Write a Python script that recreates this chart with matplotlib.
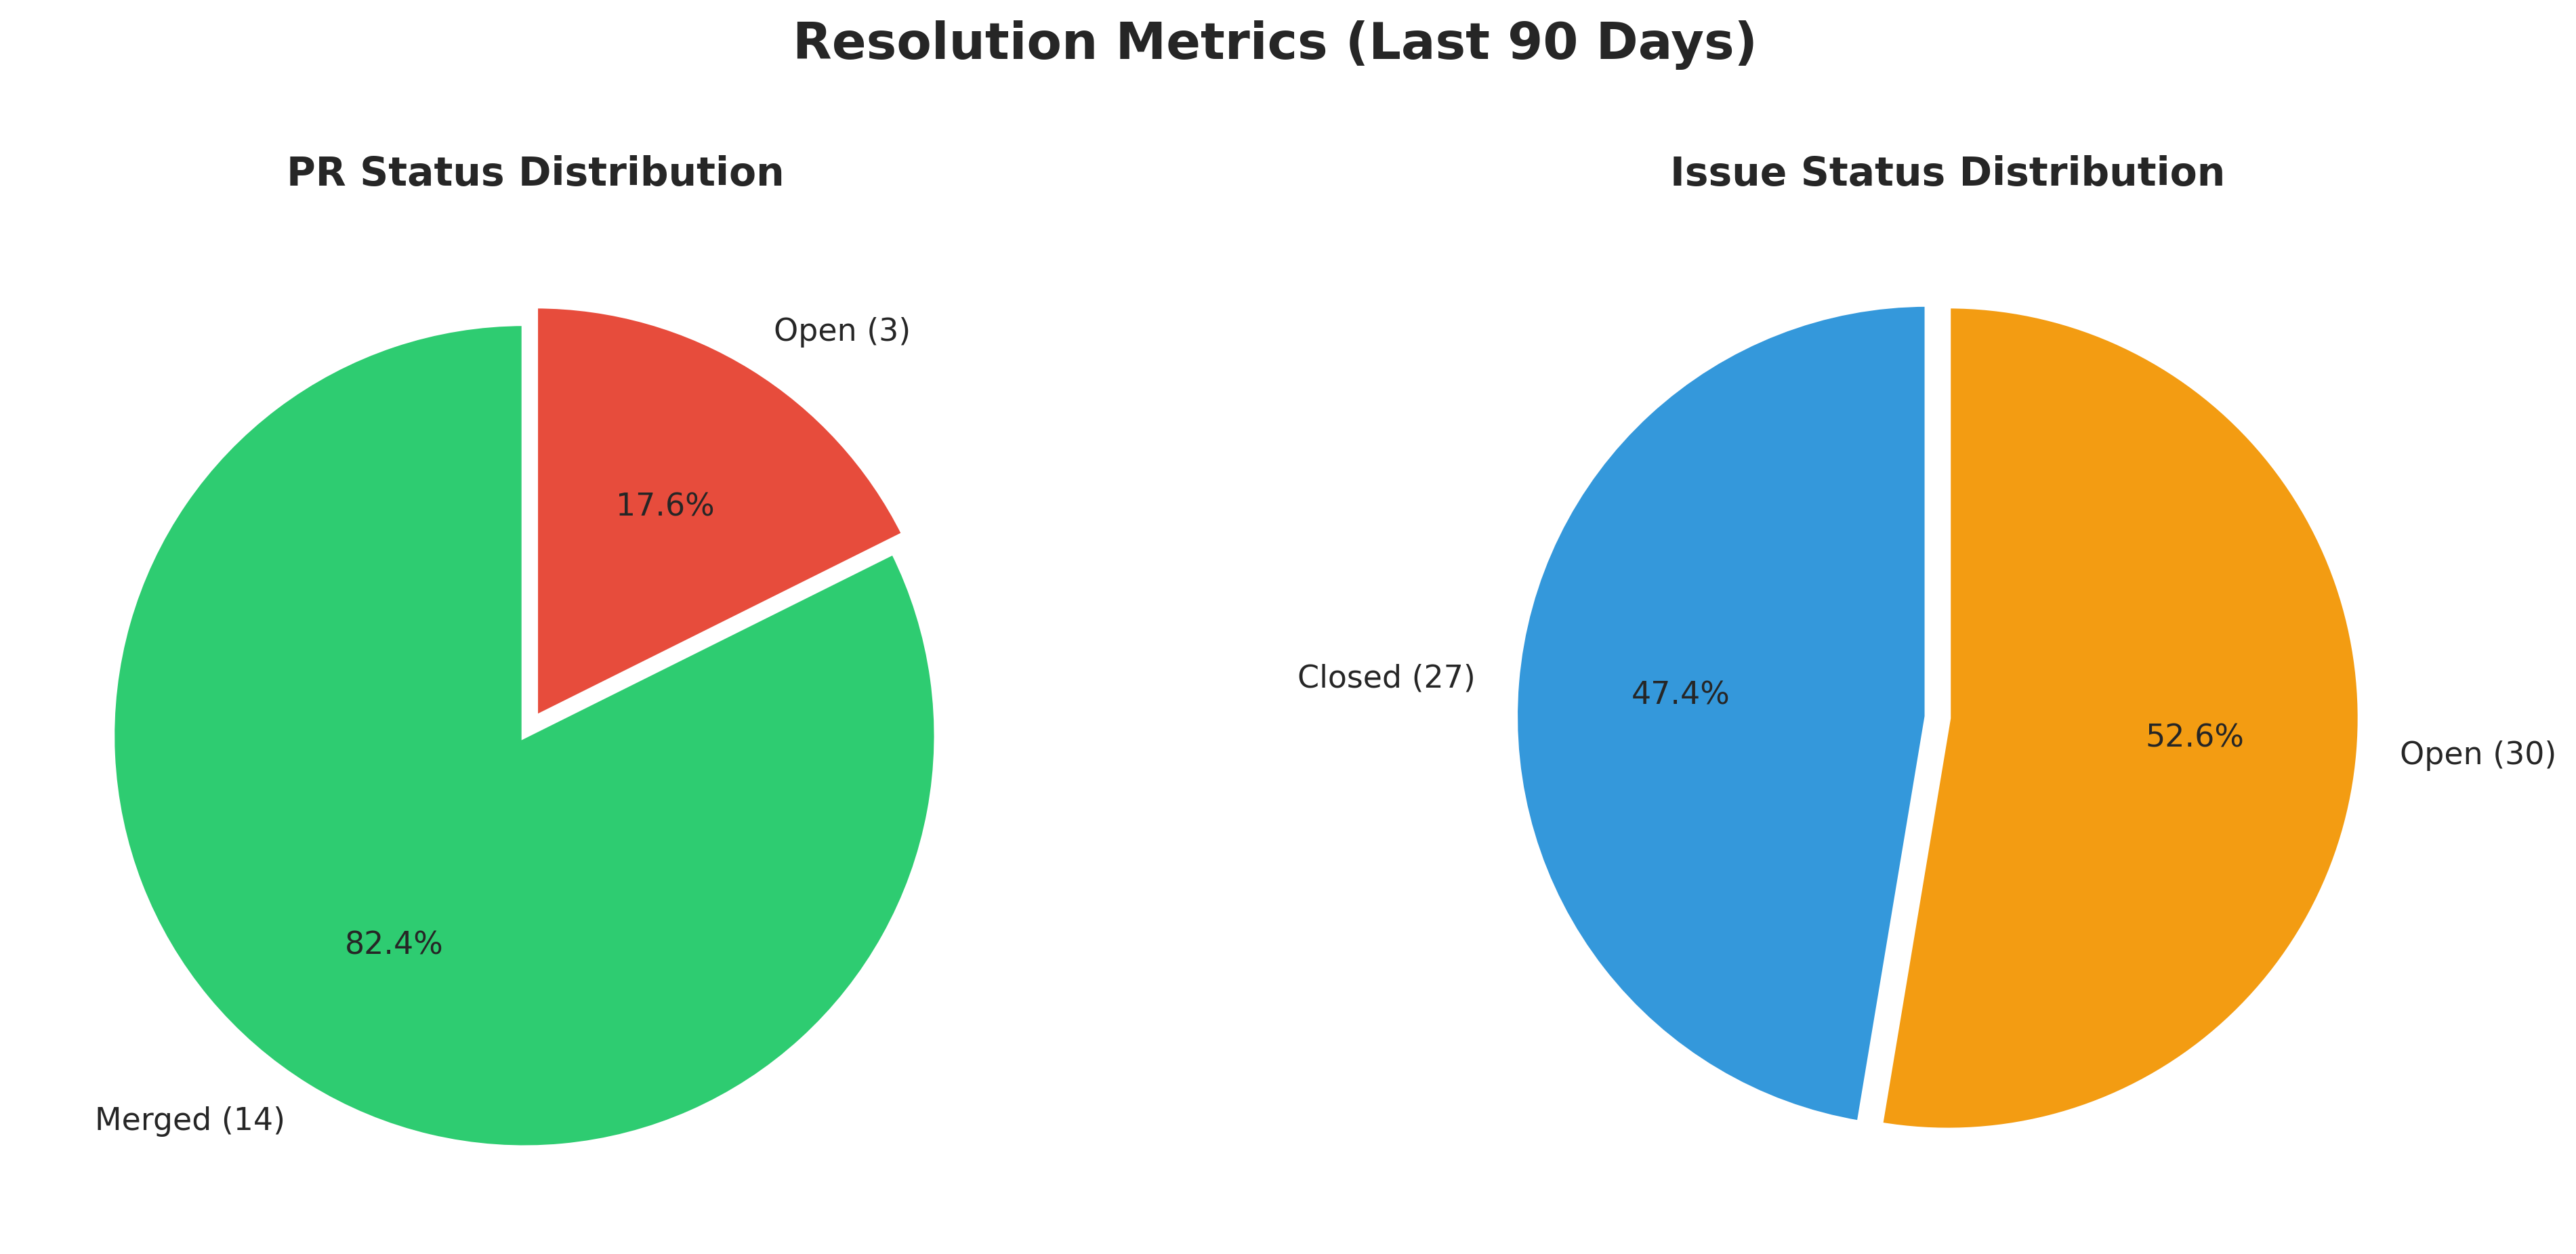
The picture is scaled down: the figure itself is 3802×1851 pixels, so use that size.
import numpy as np
import matplotlib
matplotlib.use("Agg")
import matplotlib.pyplot as plt

# PR data
pr_labels = ["Merged", "Open"]
pr_counts = [14, 3]
pr_colors = ["#2ecc71", "#e74c3c"]

# Issue data
issue_labels = ["Closed", "Open"]
issue_counts = [27, 30]
issue_colors = ["#3498db", "#f39c12"]

plt.rcParams["text.color"] = "#262626"
plt.rcParams["font.family"] = "DejaVu Sans"

fig, axes = plt.subplots(1, 2, figsize=(3803/300, 1851/300), dpi=300)
fig.subplots_adjust(left=0.0076, right=0.9561, bottom=0.0162, top=0.8385, wspace=0.37)

def draw_pie(ax, labels, counts, colors, title):
    labs = [f"{l} ({c})" for l, c in zip(labels, counts)]
    ax.pie(counts, labels=labs, colors=colors, autopct="%1.1f%%", startangle=90,
           explode=(0.05, 0), textprops={"fontsize": 11, "color": "#262626"},
           wedgeprops={"edgecolor": "white", "linewidth": 2})
    ax.set_title(title, fontsize=14, fontweight="bold", color="#262626")
    ax.set_aspect("equal")

draw_pie(axes[0], pr_labels, pr_counts, pr_colors, "PR Status Distribution")
draw_pie(axes[1], issue_labels, issue_counts, issue_colors, "Issue Status Distribution")

fig.suptitle("Resolution Metrics (Last 90 Days)", fontsize=18, fontweight="bold",
             x=0.495, y=1 - 87/1851, va="baseline", color="#262626")

fig.savefig("out.png", dpi=300, facecolor="white")
